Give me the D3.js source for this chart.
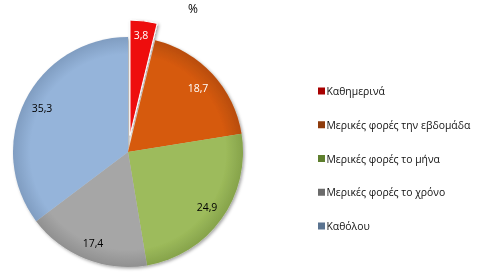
<!DOCTYPE html>
<html><head><meta charset="utf-8">
<script src="https://cdn.jsdelivr.net/npm/d3@7"></script>
<style>html,body{margin:0;padding:0;background:#fff;}svg{display:block;}</style>
</head><body>
<svg id="chart" width="480" height="279"></svg>
<script>
const categories = ["Καθημερινά","Μερικές φορές την εβδομάδα","Μερικές φορές το μήνα","Μερικές φορές το χρόνο","Καθόλου"];
const values = [3.8, 18.7, 24.9, 17.4, 35.3];
const labels = ["3,8","18,7","24,9","17,4","35,3"];
const title = "%";

const sliceColors = ["#EE0A0A","#D65A0C","#9DBB5B","#A6A6A6","#95B4DA"];
const edgeColors = ["#A80000","#9A4008","#6F8A3A","#7A7A7A","#6A86A8"];
const swatchColors = ["#A80000","#8E3B0C","#5E7F2E","#6A6A6A","#5A7390"];
const labelColors = ["#fff","#fff","#000","#000","#000"];

const svg = d3.select("#chart");
const cx = 128, cy = 152, R = 115;
const explode = [17,0,0,0,0];

const defs = svg.append("defs");
const f = defs.append("filter").attr("id","sh").attr("x","-20%").attr("y","-20%").attr("width","140%").attr("height","140%");
f.append("feDropShadow").attr("dx",1.5).attr("dy",1.5).attr("stdDeviation",1.5).attr("flood-color","#000").attr("flood-opacity",0.35);

sliceColors.forEach((c,i)=>{
  const g = defs.append("radialGradient").attr("id","g"+i).attr("gradientUnits","userSpaceOnUse")
    .attr("cx",0).attr("cy",0).attr("r",R+explode[i]);
  g.append("stop").attr("offset","0.85").attr("stop-color",c);
  g.append("stop").attr("offset","1").attr("stop-color",d3.interpolateRgb(c,edgeColors[i])(0.5));
});

const pie = d3.pie().sort(null).value(d=>d);
const arcs = pie(values);
const arc = d3.arc().innerRadius(0).outerRadius(R);

const gPie = svg.append("g").attr("filter","url(#sh)");
arcs.forEach((a,i)=>{
  const mid = (a.startAngle+a.endAngle)/2;
  const dx = explode[i]*Math.sin(mid), dy = -explode[i]*Math.cos(mid);
  gPie.append("path")
    .attr("transform",`translate(${cx+dx},${cy+dy})`)
    .attr("d",arc(a))
    .attr("fill",`url(#g${i})`)
    .attr("stroke", i===0 ? "#fff" : "none")
    .attr("stroke-width",1);
});

const lblPos = [[141,35],[198,88],[207,207],[93,243],[42,108]];
arcs.forEach((a,i)=>{
  svg.append("text")
    .attr("x",lblPos[i][0]).attr("y",lblPos[i][1])
    .attr("text-anchor","middle").attr("dominant-baseline","central")
    .attr("font-family","Open Sans, sans-serif").attr("font-size",10.5)
    .attr("fill",labelColors[i]).text(labels[i]);
});

svg.append("text").attr("x",193).attr("y",8).attr("text-anchor","middle").attr("dominant-baseline","central")
  .attr("font-family","Open Sans, sans-serif").attr("font-size",12).attr("fill","#000").text(title);

const legY = d3.scalePoint().domain(categories).range([91,226]);
const leg = svg.append("g");
categories.forEach((c,i)=>{
  const y = legY(c);
  leg.append("rect").attr("x",318).attr("y",y-3.5).attr("width",7).attr("height",7).attr("fill",swatchColors[i]);
  leg.append("text").attr("x",326.5).attr("y",y).attr("dominant-baseline","central")
    .attr("font-family","Open Sans, sans-serif").attr("font-size",10.4).attr("fill","#111").text(c);
});
</script>
</body></html>
